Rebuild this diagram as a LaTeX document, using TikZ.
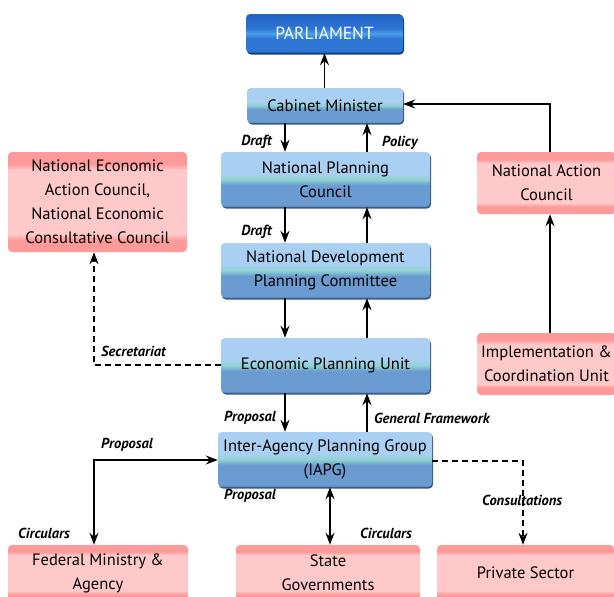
\documentclass[tikz,border=0pt]{standalone}
\usepackage{fontspec}
\setmainfont{PT Sans}
\usetikzlibrary{arrows.meta,shadows}
\definecolor{blt}{HTML}{A9CFF2}
\definecolor{bteal}{HTML}{8FD3D0}
\definecolor{bmid}{HTML}{6A9CD2}
\definecolor{bdk}{HTML}{4F7FB8}
\definecolor{pdk}{HTML}{1656B0}
\definecolor{pmid}{HTML}{2E76D4}
\definecolor{plt}{HTML}{4AA2E8}
\definecolor{ptop}{HTML}{2466C8}
\definecolor{pkd}{HTML}{FF9A9A}
\definecolor{pkl}{HTML}{FFC9C9}
\pgfdeclareverticalshading{blueshade}{100bp}{color(0bp)=(bdk); color(25bp)=(bdk); color(27bp)=(bmid); color(45bp)=(bmid); color(50bp)=(bteal); color(55bp)=(blt); color(100bp)=(blt)}
\pgfdeclareverticalshading{parlshade}{100bp}{color(0bp)=(pdk); color(25bp)=(pdk); color(28bp)=(pmid); color(44bp)=(pmid); color(50bp)=(plt); color(56bp)=(pmid); color(70bp)=(ptop); color(100bp)=(ptop)}
\pgfdeclareverticalshading{pinkshade}{100bp}{color(0bp)=(pkd); color(31bp)=(pkd); color(34bp)=(pkl); color(66bp)=(pkl); color(69bp)=(pkd); color(100bp)=(pkd)}
\tikzset{
  bluebox/.style={shading=blueshade, rounded corners=4pt, align=center, inner sep=2pt,
    font=\fontsize{16.5}{24}\selectfont,
    general shadow={shadow xshift=1pt, shadow yshift=-1.5pt, fill=bdk!70!black}},
  parlbox/.style={shading=parlshade, rounded corners=4pt, align=center, text=white,
    font=\fontsize{17.5}{20}\selectfont,
    general shadow={shadow xshift=1pt, shadow yshift=-1.5pt, fill=pdk!70!black}},
  pinkbox/.style={shading=pinkshade, rounded corners=4pt, align=center, inner sep=2pt,
    font=\fontsize{16.5}{24}\selectfont},
  lbl/.style={font=\fontsize{14.5}{16}\selectfont\bfseries\itshape, inner sep=0pt},
  arr/.style={line width=1.4pt, -{Stealth[length=12pt,width=9pt,inset=4pt]}},
  darr/.style={line width=1.4pt, {Stealth[length=12pt,width=9pt,inset=4pt]}-{Stealth[length=12pt,width=9pt,inset=4pt]}},
  dashline/.style={line width=1.4pt, dash pattern=on 6pt off 4pt, -{Stealth[length=12pt,width=9pt,inset=4pt]}}
}
\begin{document}
\begin{tikzpicture}[x=1pt,y=-1pt]
\useasboundingbox (0,0) rectangle (614,597);
\clip (0,0) rectangle (614,597);
% nodes
\node[parlbox, minimum width=157pt, minimum height=39pt] (parl) at (324.5,33.5) {PARLIAMENT};
\node[bluebox, minimum width=156pt, minimum height=35pt] (cab) at (325,105.5) {Cabinet Minister};
\node[bluebox, minimum width=209pt, minimum height=55pt] (npc) at (325.5,179.5) {National Planning\\Council};
\node[bluebox, minimum width=209pt, minimum height=55pt] (ndpc) at (325.5,270.5) {National Development\\Planning Committee};
\node[bluebox, minimum width=209pt, minimum height=55pt] (epu) at (325.5,365.5) {Economic Planning Unit};
\node[bluebox, minimum width=214pt, minimum height=55pt] (iapg) at (325,459.5) {Inter-Agency Planning Group\\(IAPG)};
\node[pinkbox, minimum width=179pt, minimum height=100pt] (neac) at (97.5,202) {National Economic\\Action Council,\\National Economic\\Consultative Council};
\node[pinkbox, minimum width=139pt, minimum height=62pt] (nac) at (546.5,183) {National Action\\Council};
\node[pinkbox, minimum width=139pt, minimum height=62pt] (icu) at (546.5,364) {Implementation \&\\Coordination Unit};
\node[pinkbox, minimum width=180pt, minimum height=56pt] (fed) at (98,573) {Federal Ministry \&\\Agency};
\node[pinkbox, minimum width=184pt, minimum height=56pt] (state) at (328,573) {State\\Governments};
\node[pinkbox, minimum width=177pt, minimum height=56pt] (priv) at (525.5,573) {Private Sector};
% helper coordinates
\coordinate (L) at (285,0);
\coordinate (R) at (367,0);
\coordinate (M) at (330,0);
\coordinate (nacTurn) at (550,104);
\coordinate (secTurn) at (94,365);
\coordinate (fedTurn) at (94,460);
\coordinate (privTurn) at (523,461);
% connectors
\draw[arr] (cab.north -| parl.south) -- (parl.south);
\draw[arr] (cab.south -| L) -- (npc.north -| L);
\draw[arr] (npc.north -| R) -- (cab.south -| R);
\draw[arr] (npc.south -| L) -- (ndpc.north -| L);
\draw[arr] (ndpc.north -| R) -- (npc.south -| R);
\draw[arr] (ndpc.south -| L) -- (epu.north -| L);
\draw[arr] (epu.north -| R) -- (ndpc.south -| R);
\draw[arr] (epu.south -| L) -- (iapg.north -| L);
\draw[arr] (iapg.north -| R) -- (epu.south -| R);
\draw[arr] (nac.north -| nacTurn) -- (nacTurn) -- (cab.east |- nacTurn);
\draw[arr] (icu.north -| nacTurn) -- (nac.south -| nacTurn);
\draw[dashline] (epu.west |- secTurn) -- (secTurn) -- (neac.south -| secTurn);
\draw[darr] (fed.north -| fedTurn) -- (fedTurn) -- (iapg.west |- fedTurn);
\draw[darr] (iapg.south -| M) -- (state.north -| M);
\draw[dashline] (iapg.east |- privTurn) -- (privTurn) -- (priv.north -| privTurn);
% labels
\node[lbl, anchor=east] (l1) at (272,142) {Draft};
\node[lbl, anchor=west] (l2) at (382,143) {Policy};
\node[lbl, anchor=east] (l3) at (272,232) {Draft};
\node[lbl, anchor=west] (l4) at (101,351) {Secretariat};
\node[lbl, anchor=east] (l5) at (276,418) {Proposal};
\node[lbl, anchor=west] (l6) at (374,418) {General Framework};
\node[lbl, anchor=west] (l7) at (101,445) {Proposal};
\node[lbl, anchor=east] (l8) at (276,496) {Proposal};
\node[lbl, anchor=west] (l9) at (18,533) {Circulars};
\node[lbl, anchor=west] (l10) at (360,533) {Circulars};
\node[lbl, anchor=west] (l11) at (482,500) {Consultations};
\end{tikzpicture}
\end{document}
